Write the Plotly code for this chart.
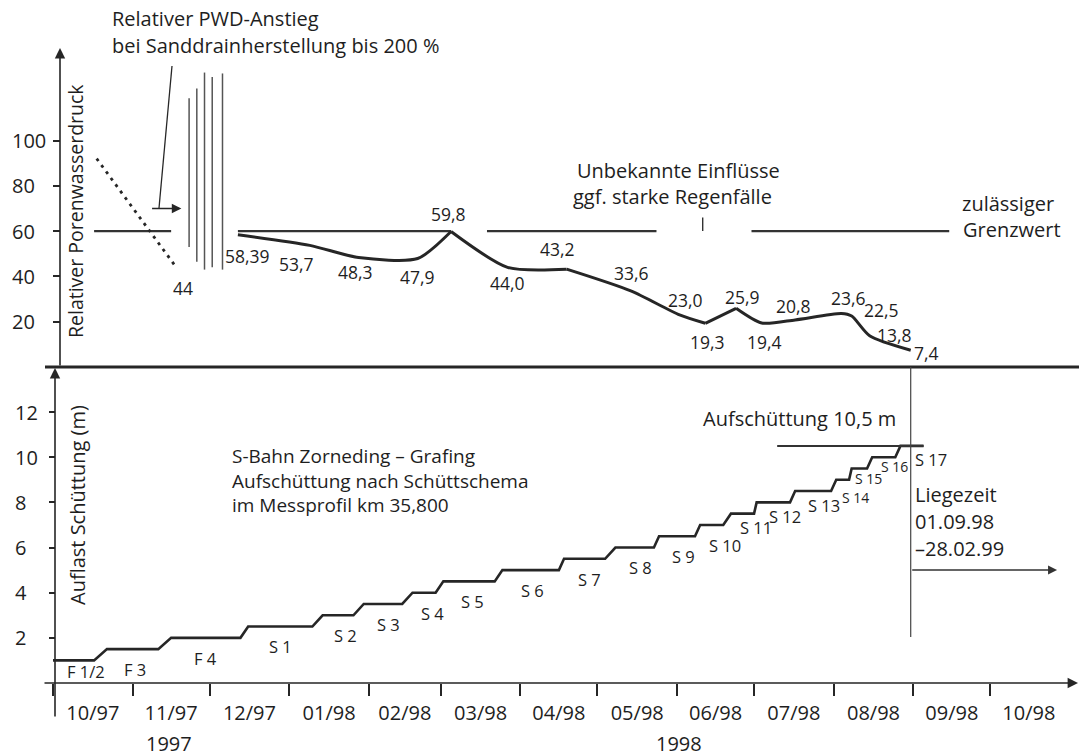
import pandas as pd
import plotly.graph_objects as go

W, H = 1079, 756

# ---------------- upper panel: relative pore water pressure (%) ----------------
pwd_dates = ["1997-12-12", "1998-01-09", "1998-01-28", "1998-02-20", "1998-03-05",
             "1998-03-27", "1998-04-19", "1998-05-14", "1998-06-02", "1998-06-12",
             "1998-06-24", "1998-07-04", "1998-07-17", "1998-08-04", "1998-08-08",
             "1998-08-15", "1998-08-31"]
pwd_values = [58.39, 53.7, 48.3, 47.9, 59.8, 44.0, 43.2, 33.6, 23.0, 19.3,
              25.9, 19.4, 20.8, 23.6, 22.5, 13.8, 7.4]

# pore pressure before the sand drains were installed
pre_dates = ["1997-10-18", "1997-11-18"]
pre_values = [92, 44]

# pressure spikes while the sand drains were being installed
drain_dates = ["1997-11-23", "1997-11-26", "1997-11-29", "1997-12-02", "1997-12-06"]
drain_low = [53, 46.5, 43, 44, 43]
drain_high = [118.6, 123, 130, 128, 129.6]

# permissible limit (drawn in pieces between the notes)
limit_value = 60
limit_from = ["1997-10-17", "1997-12-12", "1998-03-19", "1998-06-30"]
limit_to = ["1997-11-16", "1998-03-05", "1998-05-24", "1998-09-15"]
rain_date = "1998-06-11"
rain_span = [60, 66]

# ---------------- lower panel: fill height (m) ----------------
stages = ["F 1/2", "F 3", "F 4"] + [f"S {i}" for i in range(1, 18)]
stage_height = [1.0, 1.5, 2.0, 2.5, 3.0, 3.5, 4.0, 4.5, 5.0, 5.5,
                6.0, 6.5, 7.0, 7.5, 8.0, 8.5, 9.0, 9.5, 10.0, 10.5]
stage_start = ["1997-10-01", "1997-10-22", "1997-11-16", "1997-12-16", "1998-01-14",
               "1998-01-30", "1998-02-18", "1998-03-02", "1998-03-25", "1998-04-18",
               "1998-05-08", "1998-05-25", "1998-06-10", "1998-06-22", "1998-07-02",
               "1998-07-17", "1998-08-02", "1998-08-08", "1998-08-16", "1998-08-27"]
stage_end = ["1997-10-17", "1997-11-11", "1997-12-13", "1998-01-10", "1998-01-26",
             "1998-02-14", "1998-02-27", "1998-03-22", "1998-04-16", "1998-05-04",
             "1998-05-23", "1998-06-08", "1998-06-19", "1998-07-01", "1998-07-15",
             "1998-07-31", "1998-08-07", "1998-08-14", "1998-08-25", "1998-09-05"]
target_height = 10.5
target_from, target_to = "1998-07-10", "1998-09-05"
rest_start = "1998-08-31"
rest_arrow_end = "1998-10-27"
rest_arrow_level = 5.0

top_ticks = [20, 40, 60, 80, 100]
bottom_ticks = [2, 4, 6, 8, 10, 12]

# ---------------- styling helpers ----------------
FONT = "Open Sans"
FS = 20          # notes, titles, tick labels
FS_VAL = 17.5    # values on the pressure curve
FS_STAGE = 16.5  # stage names
FS_STAGE_TIGHT = 14  # stage names where the steps are short
INK = "#1e1e1e"
LINE = "#262626"

ORIGIN = pd.Timestamp("1997-10-01")
PX_PER_DAY = 2.568
ORIGIN_PX = 53


def px_date(px):
    return (ORIGIN + pd.Timedelta(days=(px - ORIGIN_PX) / PX_PER_DAY)).strftime("%Y-%m-%d %H:%M:%S")


def fx(px):
    return px / W


def fy(py):
    return 1 - py / H


def note(text, x, y, anchor="left", size=FS, angle=0):
    return dict(text=text, x=fx(x), y=fy(y), xref="paper", yref="paper",
                xanchor=anchor, yanchor="middle", showarrow=False, textangle=angle,
                align="left", font=dict(family=FONT, size=size, color=INK))


def decimal_comma(v):
    s = f"{v:.2f}".rstrip("0")
    if s.endswith("."):
        s += "0"
    return s.replace(".", ",")


fig = go.Figure()

# limit line pieces
lx, ly = [], []
for a, b in zip(limit_from, limit_to):
    lx += [a, b, None]
    ly += [limit_value, limit_value, None]
fig.add_trace(go.Scatter(x=lx, y=ly, xaxis="x2", yaxis="y2", mode="lines",
                         line=dict(color="#333333", width=2.2), hoverinfo="skip"))
fig.add_trace(go.Scatter(x=[rain_date, rain_date], y=rain_span, xaxis="x2", yaxis="y2",
                         mode="lines", line=dict(color="#333333", width=1.4), hoverinfo="skip"))

# pressure before drain installation (dotted)
fig.add_trace(go.Scatter(x=pre_dates, y=pre_values, xaxis="x2", yaxis="y2", mode="lines",
                         line=dict(color=LINE, width=2.8, dash="3px,5px"), hoverinfo="skip"))

# drain installation spikes
dx, dy = [], []
for d, lo, hi in zip(drain_dates, drain_low, drain_high):
    dx += [d, d, None]
    dy += [lo, hi, None]
fig.add_trace(go.Scatter(x=dx, y=dy, xaxis="x2", yaxis="y2", mode="lines",
                         line=dict(color="#555555", width=1.5), hoverinfo="skip"))

# measured pore pressure curve, split at its sharp corners
corners = [0, 4, 6, 9, 10, len(pwd_values) - 1]
for a, b in zip(corners[:-1], corners[1:]):
    fig.add_trace(go.Scatter(x=pwd_dates[a:b + 1], y=pwd_values[a:b + 1], xaxis="x2", yaxis="y2",
                             mode="lines", line=dict(color=LINE, width=3, shape="spline", smoothing=0.7),
                             hoverinfo="skip"))

# fill stages as a stair line
sx, sy = [], []
for s, e, h in zip(stage_start, stage_end, stage_height):
    sx += [s, e]
    sy += [h, h]
fig.add_trace(go.Scatter(x=sx, y=sy, xaxis="x", yaxis="y", mode="lines",
                         line=dict(color=LINE, width=2.6), hoverinfo="skip"))
fig.add_trace(go.Scatter(x=[target_from, target_to], y=[target_height, target_height],
                         xaxis="x", yaxis="y", mode="lines",
                         line=dict(color="#333333", width=2), hoverinfo="skip"))

ann = []

# point labels on the pore pressure curve (pixel offsets from each point)
pwd_label_offsets = [(10, 21), (-13, 19), (-3, 14), (0, 18), (-3, -18), (0, 16), (-9, -20),
                     (1, -18), (6, -15), (2, 19), (6, -11), (3, 19), (-2, -14), (7, -16),
                     (30, -6), (25, -1), (16, 3)]
for d, v, (ox, oy) in zip(pwd_dates, pwd_values, pwd_label_offsets):
    ann.append(dict(text=decimal_comma(v), x=d, y=v, xref="x2", yref="y2", showarrow=False,
                    xshift=ox, yshift=-oy, xanchor="center", yanchor="middle",
                    font=dict(family=FONT, size=FS_VAL, color=INK)))
ann.append(dict(text=f"{pre_values[-1]}", x=pre_dates[-1], y=pre_values[-1], xref="x2", yref="y2",
                showarrow=False, xshift=7, yshift=-21, font=dict(family=FONT, size=FS_VAL, color=INK)))

# stage labels below each step; the crowded short steps near the end get their own placement
tight_place = {16: (0.80, 0, FS_STAGE_TIGHT), 17: (0.45, -3, FS_STAGE_TIGHT),
               18: (0.42, 0, FS_STAGE_TIGHT), 19: (0.62, 6, FS_STAGE)}  # index: (drop m, x shift px, size)
for i, (name, s, e, h) in enumerate(zip(stages, stage_start, stage_end, stage_height)):
    t0, t1 = pd.Timestamp(s), pd.Timestamp(e)
    xpos = (t0 + (t1 - t0) * 0.3).strftime("%Y-%m-%d %H:%M")
    drop = 0.5 if i == 0 else (0.9 if i <= 12 else 0.62)
    shift = 0
    size = FS_STAGE
    if i in tight_place:
        drop, shift, size = tight_place[i]
    ann.append(dict(text=name, x=xpos, y=h - drop, xref="x", yref="y", showarrow=False,
                    xshift=shift, xanchor="left", yanchor="middle",
                    font=dict(family=FONT, size=size, color=INK)))

# axis lines with arrow heads
arrow_style = dict(text="", showarrow=True, arrowhead=2, arrowsize=1.3, arrowwidth=1.6,
                   arrowcolor=LINE, xref="paper", yref="paper", axref="pixel", ayref="pixel")
ann.append(dict(x=fx(1078), y=fy(683), ax=-(1078 - 43), ay=0, **arrow_style))
ann.append(dict(x=fx(60), y=fy(48), ax=0, ay=367 - 48, **arrow_style))
ann.append(dict(x=fx(55), y=fy(368), ax=0, ay=718 - 368, **arrow_style))

# arrows inside the panels
ann.append(dict(text="", x="1997-11-20", y=70, ax="1997-11-08", ay=70, xref="x2", yref="y2",
                axref="x2", ayref="y2", showarrow=True, arrowhead=2, arrowsize=1.2,
                arrowwidth=1.6, arrowcolor=LINE))
ann.append(dict(text="", x=rest_arrow_end, y=rest_arrow_level, ax=rest_start, ay=rest_arrow_level,
                xref="x", yref="y", axref="x", ayref="y", showarrow=True, arrowhead=2,
                arrowsize=1.2, arrowwidth=1.5, arrowcolor="#333333"))

# tick labels (left aligned, as lettered on the drawing)
for v in top_ticks:
    ann.append(dict(text=str(v), x=fx(10), y=v, xref="paper", yref="y2", xanchor="left",
                    yanchor="middle", showarrow=False, font=dict(family=FONT, size=FS, color=INK)))
for v in bottom_ticks:
    ann.append(dict(text=str(v), x=fx(13), y=v, xref="paper", yref="y", xanchor="left",
                    yanchor="middle", showarrow=False, font=dict(family=FONT, size=FS, color=INK)))

# texts
ann += [
    note("Relativer Porenwasserdruck", 76, 211, anchor="center", angle=-90, size=19.5),
    note("Auflast Schüttung (m)", 77, 505, anchor="center", angle=-90),
    note("Relativer PWD-Anstieg", 110, 19),
    note("bei Sanddrainherstellung bis 200 %", 110, 46),
    note("Unbekannte Einflüsse", 575, 170),
    note("ggf. starke Regenfälle", 571, 196),
    note("zulässiger", 960, 203),
    note("Grenzwert", 961, 230),
    note("S-Bahn Zorneding – Grafing<br>Aufschüttung nach Schüttschema<br>im Messprofil km 35,800",
         230, 480, size=19),
    note("Aufschüttung 10,5 m", 701, 419),
    note("Liegezeit", 913, 494),
    note("01.09.98", 913, 521),
    note("–28.02.99", 913, 548),
    note("1997", 169, 743, anchor="center"),
    note("1998", 679, 743, anchor="center"),
]

shapes = [
    # thick line separating the panels
    dict(type="line", xref="paper", yref="paper", x0=fx(45), x1=fx(1079), y0=fy(367), y1=fy(367),
         line=dict(color=LINE, width=3)),
    # leader line of the PWD note
    dict(type="line", xref="paper", yref="paper", x0=fx(172), y0=fy(66), x1=fx(159), y1=fy(208),
         line=dict(color=LINE, width=1.3)),
    # start of the resting period
    dict(type="line", xref="x", yref="paper", x0=rest_start, x1=rest_start, y0=fy(637), y1=fy(367),
         line=dict(color="#444444", width=1.2)),
]

x_range = [px_date(43), px_date(1066)]
common_x = dict(domain=[fx(43), fx(1066)], range=x_range, type="date", showgrid=False, zeroline=False)

fig.update_layout(
    width=W, height=H,
    margin=dict(l=0, r=0, t=0, b=0),
    paper_bgcolor="white", plot_bgcolor="rgba(0,0,0,0)",
    showlegend=False,
    font=dict(family=FONT, size=FS, color=INK),
    xaxis=dict(**common_x, anchor="y", showline=False, ticks="outside", ticklen=12, tickwidth=1.5,
               tickcolor=LINE, dtick="M1", tick0="1997-10-01", tickformat="%m/%y",
               ticklabelmode="period", tickfont=dict(family=FONT, size=FS, color=INK)),
    xaxis2=dict(**common_x, anchor="y2", visible=False),
    yaxis=dict(domain=[fy(683), fy(370)], range=[0, 313 / 22.58], anchor="free", position=fx(55),
               showline=False, ticks="outside", ticklen=6, tickwidth=1.5, tickcolor=LINE,
               tickvals=bottom_ticks, showticklabels=False, showgrid=False, zeroline=False),
    yaxis2=dict(domain=[fy(367), fy(50)], range=[0, 317 / 2.265], anchor="free", position=fx(60),
                showline=False, ticks="outside", ticklen=7, tickwidth=1.5, tickcolor=LINE,
                tickvals=top_ticks, showticklabels=False, showgrid=False, zeroline=False),
    annotations=ann,
    shapes=shapes,
)

fig.write_html("out.html")
